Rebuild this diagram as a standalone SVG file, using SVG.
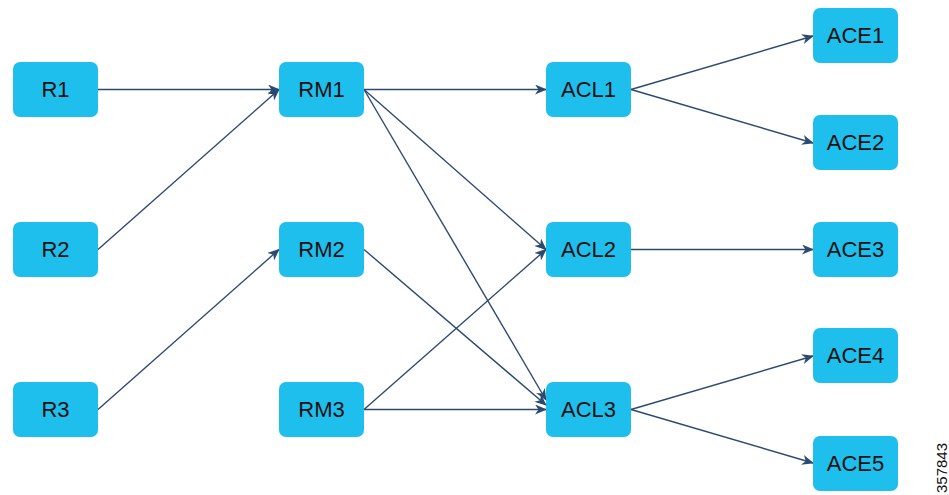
<svg xmlns="http://www.w3.org/2000/svg" width="949" height="495" viewBox="0 0 949 495">
<style>
.n rect{fill:#1fbfed;stroke:none}
.n text{font-family:"Liberation Sans",Arial,sans-serif;font-size:22px;fill:#111;text-anchor:middle;dominant-baseline:central}
.e line{stroke:#2c4a70;stroke-width:1.4;marker-end:url(#ah)}
</style>
<defs>
<marker id="ah" viewBox="0 0 12 10" refX="11" refY="5" markerWidth="12" markerHeight="10" markerUnits="userSpaceOnUse" orient="auto">
<path d="M0,0 L12,5 L0,10 L3.5,5 z" fill="#2c4a70"/>
</marker>
</defs>
<g id="edges" class="e">
<line x1="98" y1="89.5" x2="279" y2="89.5"/>
<line x1="98" y1="249.5" x2="279" y2="89.5"/>
<line x1="98" y1="409.5" x2="279" y2="249.5"/>
<line x1="364" y1="89.5" x2="546" y2="89.5"/>
<line x1="364" y1="89.5" x2="546" y2="249.5"/>
<line x1="364" y1="89.5" x2="546" y2="400"/>
<line x1="364" y1="249.5" x2="546" y2="405"/>
<line x1="364" y1="409.5" x2="546" y2="249.5"/>
<line x1="364" y1="409.5" x2="546" y2="409.5"/>
<line x1="631" y1="89.5" x2="813" y2="36"/>
<line x1="631" y1="89.5" x2="813" y2="143"/>
<line x1="631" y1="249.5" x2="813" y2="249.5"/>
<line x1="631" y1="409.5" x2="813" y2="356"/>
<line x1="631" y1="409.5" x2="813" y2="463"/>
</g>
<g id="R1" class="n"><rect x="13" y="62" width="85" height="55" rx="7"/><text x="55.5" y="89.5">R1</text></g>
<g id="R2" class="n"><rect x="13" y="222" width="85" height="55" rx="7"/><text x="55.5" y="249.5">R2</text></g>
<g id="R3" class="n"><rect x="13" y="382" width="85" height="55" rx="7"/><text x="55.5" y="409.5">R3</text></g>
<g id="RM1" class="n"><rect x="279" y="62" width="85" height="55" rx="7"/><text x="321.5" y="89.5">RM1</text></g>
<g id="RM2" class="n"><rect x="279" y="222" width="85" height="55" rx="7"/><text x="321.5" y="249.5">RM2</text></g>
<g id="RM3" class="n"><rect x="279" y="382" width="85" height="55" rx="7"/><text x="321.5" y="409.5">RM3</text></g>
<g id="ACL1" class="n"><rect x="546" y="62" width="85" height="55" rx="7"/><text x="588.5" y="89.5">ACL1</text></g>
<g id="ACL2" class="n"><rect x="546" y="222" width="85" height="55" rx="7"/><text x="588.5" y="249.5">ACL2</text></g>
<g id="ACL3" class="n"><rect x="546" y="382" width="85" height="55" rx="7"/><text x="588.5" y="409.5">ACL3</text></g>
<g id="ACE1" class="n"><rect x="813" y="8" width="85" height="55" rx="7"/><text x="855.5" y="35.5">ACE1</text></g>
<g id="ACE2" class="n"><rect x="813" y="115" width="85" height="55" rx="7"/><text x="855.5" y="142.5">ACE2</text></g>
<g id="ACE3" class="n"><rect x="813" y="222" width="85" height="55" rx="7"/><text x="855.5" y="249.5">ACE3</text></g>
<g id="ACE4" class="n"><rect x="813" y="328" width="85" height="55" rx="7"/><text x="855.5" y="355.5">ACE4</text></g>
<g id="ACE5" class="n"><rect x="813" y="436" width="85" height="55" rx="7"/><text x="855.5" y="463.5">ACE5</text></g>
<text x="941" y="468" transform="rotate(-90 941 468)" font-family="Liberation Sans,Arial,sans-serif" font-size="15" fill="#111" text-anchor="middle" dominant-baseline="central">357843</text>
</svg>
